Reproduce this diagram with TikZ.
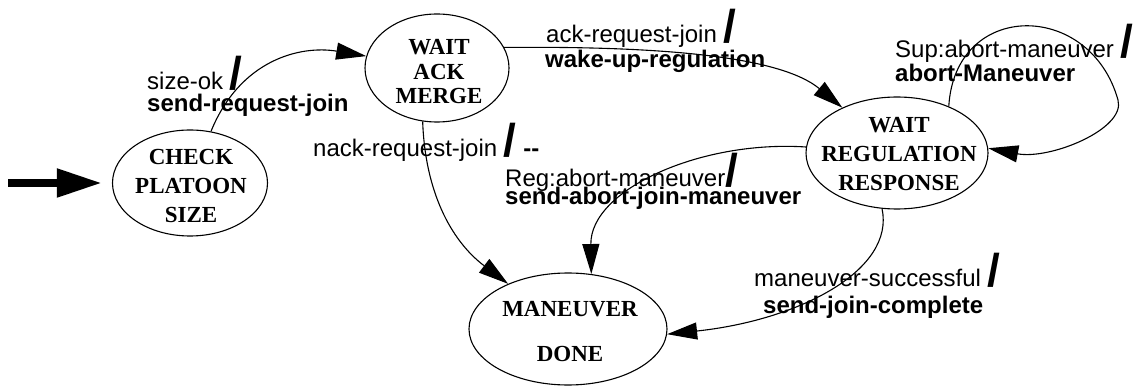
\documentclass[tikz,border=0pt]{standalone}
\usepackage{fontspec}
\setmainfont{Liberation Serif}
\newfontfamily\labelfont{Liberation Sans}
\usetikzlibrary{arrows.meta,shapes.geometric}

% big bold slash separating event and action
\newcommand\trslash{{\fontsize{46}{46}\selectfont\bfseries /}}

\tikzset{
  state/.style={draw, ellipse, line width=1.1pt, inner sep=0pt},
  statetext/.style={align=center, inner sep=0pt},
  trans/.style={line width=1.1pt, -{Triangle[length=30pt,width=17pt]}},
  initarr/.style={line width=8pt, -{Triangle[length=45pt,width=27pt]}, shorten >=10pt},
  ev/.style={anchor=base west, inner sep=0pt, font=\labelfont\fontsize{24}{24}\selectfont},
  act/.style={anchor=base west, inner sep=0pt, font=\labelfont\bfseries\fontsize{24}{24}\selectfont},
}

\begin{document}
\begin{tikzpicture}[x=1pt,y=-1pt]
\useasboundingbox (0,0) rectangle (1137,387);
\fill[white] (0,0) rectangle (1137,387);

% states
\node[state, minimum width=155pt, minimum height=106pt] (check) at (190,183) {};
\node[state, minimum width=144pt, minimum height=108pt] (waitack) at (437,68) {};
\node[state, minimum width=182pt, minimum height=112pt] (waitreg) at (897,153) {};
\node[state, minimum width=198pt, minimum height=112pt] (done) at (568,329) {};

\node[statetext, font=\bfseries\fontsize{23}{29}\selectfont] (check-t) at (191,186) {CHECK\\PLATOON\\SIZE};
\node[statetext, font=\bfseries\fontsize{23}{24.5}\selectfont] (waitack-t) at (439,72) {WAIT\\ACK\\MERGE};
\node[statetext, font=\bfseries\fontsize{23}{29}\selectfont] (waitreg-t) at (899,154) {WAIT\\REGULATION\\RESPONSE};
\node[statetext, font=\bfseries\fontsize{23}{45}\selectfont] (done-t) at (570,332) {MANEUVER\\DONE};

% initial transition
\coordinate (init) at (8,183);
\draw[initarr] (init) -- (check.west);

% transitions
\draw[trans] (check) .. controls (240,60) and (300,45) .. (waitack);
\draw[trans] (waitack.17) .. controls (660,46) and (780,56) .. (waitreg);
\draw[trans] (waitack.-105) .. controls (425,190) and (450,240) .. (done);
\draw[trans] (waitreg) .. controls (700,140) and (590,190) .. (done.67);
\draw[trans] (waitreg.-105) .. controls (895,270) and (800,320) .. (done.-3);
\draw[trans] (waitreg.42) .. controls (955,0) and (1090,0) .. (1118,100)
                          .. controls (1126,129) and (1050,160) .. (waitreg.3);

% transition labels
\node[ev]  (sizeok-e)  at (147,90)  {size-ok \trslash};
\node[act] (sizeok-a)  at (147,112) {send-request-join};
\node[ev]  (ack-e)     at (546,43)  {ack-request-join \trslash};
\node[act] (ack-a)     at (545,68)  {wake-up-regulation};
\node[ev]  (nack-e)    at (313,157) {nack-request-join \trslash{} {\bfseries -{}-}};
\node[ev]  (reg-e)     at (505,187) {Reg:abort-maneuver\trslash};
\node[act] (reg-a)     at (505,205) {send-abort-join-maneuver};
\node[ev]  (sup-e)     at (895,58)  {Sup:abort-maneuver \trslash};
\node[act] (sup-a)     at (895,82)  {abort-Maneuver};
\node[ev]  (succ-e)    at (754,286) {maneuver-successful \trslash};
\node[act] (succ-a)    at (763,313) {send-join-complete};
\end{tikzpicture}
\end{document}
